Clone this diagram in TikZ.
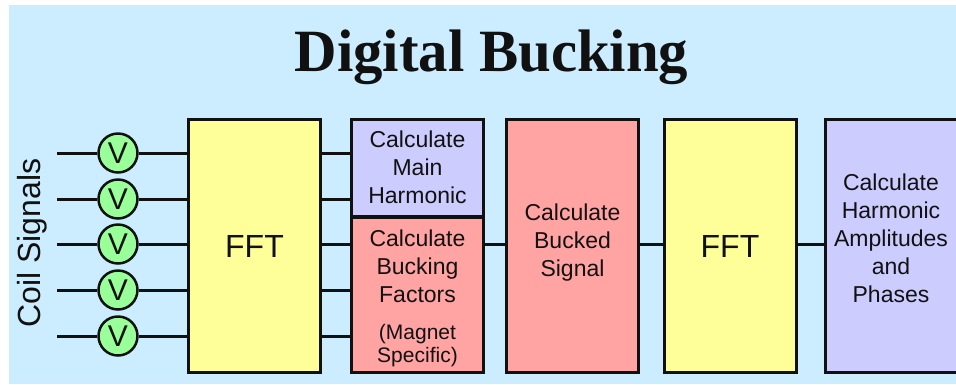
\documentclass[tikz,border=0pt]{standalone}
\usepackage{graphicx}
\usepackage{fontspec}
\setmainfont{Liberation Sans}
\newfontfamily\titlefont{Liberation Serif}

\definecolor{bgblue}{HTML}{CCECFF}
\definecolor{fftyellow}{HTML}{FFFF99}
\definecolor{lavender}{HTML}{CCCCFF}
\definecolor{salmon}{HTML}{FFA3A3}
\definecolor{meter}{HTML}{99FF99}
\definecolor{ink}{HTML}{111111}

\tikzset{
  blockbox/.style={draw=ink, line width=3pt, inner sep=0pt, align=center,
    minimum width=132pt, text=ink,
    font=\fontsize{23}{28}\selectfont},
  blocktext/.style={align=center, text=ink, inner sep=0pt,
    font=\fontsize{23}{28}\selectfont},
  fftbox/.style={blockbox, fill=fftyellow, font=\fontsize{32}{36}\selectfont},
  meterdot/.style={circle, draw=ink, line width=2.5pt, fill=meter,
    minimum size=39pt, inner sep=0pt, text=ink,
    font=\fontsize{30}{32}\selectfont},
  wire/.style={draw=ink, line width=3pt}
}
\newcommand{\smallfnt}{\fontsize{21}{22}\selectfont}

\begin{document}
\begin{tikzpicture}[x=1pt, y=-1pt]
  \useasboundingbox (0,0) rectangle (956,384);
  \fill[white] (0,0) rectangle (956,384);
  \fill[bgblue] (9,5) rectangle (956,384);
  \clip (0,0) rectangle (956,384);

  % title
  \node[anchor=base, text=ink] (title) at (491.5,71)
    {\scalebox{0.98}[1]{\titlefont\bfseries\fontsize{60}{66}\selectfont Digital Bucking}};

  % input label
  \node[rotate=90, text=ink, font=\fontsize{32}{36}\selectfont] (coil) at (32,243) {Coil Signals};

  % processing blocks
  \node[fftbox, minimum height=253pt] (fftA) at (254.5,246) {FFT};
  \node[blockbox, fill=lavender, minimum height=97pt] (mh) at (417.5,167.5)
    {Calculate\\Main\\Harmonic};
  \node[blockbox, fill=salmon, minimum height=155pt,
        label={[blocktext, yshift=-3pt]center:Calculate\\Bucking\\Factors\\[9pt]\smallfnt(Magnet\\[-5pt]\smallfnt Specific)}] (bf) at (417.5,295) {};
  \node[blockbox, fill=salmon, minimum height=253pt,
        label={[blocktext, yshift=3pt]center:Calculate\\Bucked\\Signal}] (bs) at (572.5,246) {};
  \node[fftbox, minimum height=253pt] (fftB) at (730,246) {FFT};
  \node[blockbox, fill=lavender, minimum height=253pt,
        label={[blocktext, yshift=8pt]center:Calculate\\Harmonic\\Amplitudes\\and\\Phases}] (ha) at (891,246) {};

  % coil inputs with voltmeters
  \foreach \i/\yy in {1/153, 2/199, 3/244, 4/290, 5/336} {
    \coordinate (in\i) at (57,\yy);
    \node[meterdot] (v\i) at (118,\yy) {V};
    \draw[wire] (in\i) -- (v\i);
    \draw[wire] (v\i) -- (fftA.west |- v\i);
  }

  % spectra into the bucking stage
  \draw[wire] (fftA.east |- v1) -- (mh.west |- v1);
  \draw[wire] (fftA.east |- v2) -- (mh.west |- v2);
  \draw[wire] (fftA.east |- v3) -- (bf.west |- v3);
  \draw[wire] (fftA.east |- v4) -- (bf.west |- v4);
  \draw[wire] (fftA.east |- v5) -- (bf.west |- v5);

  % main chain
  \draw[wire] (bf.east |- v3) -- (bs.west |- v3);
  \draw[wire] (bs.east |- v3) -- (fftB.west |- v3);
  \draw[wire] (fftB.east |- v3) -- (ha.west |- v3);
\end{tikzpicture}
\end{document}
